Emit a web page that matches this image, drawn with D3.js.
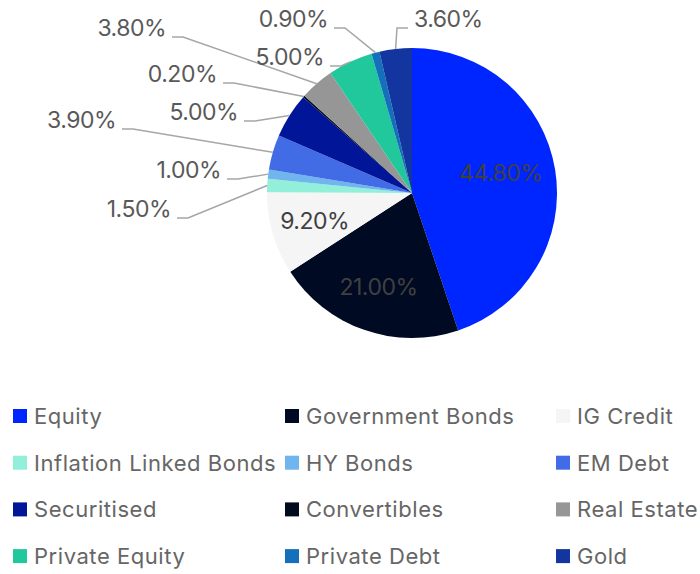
<!DOCTYPE html>
<html>
<head>
<meta charset="utf-8">
<script src="https://cdn.jsdelivr.net/npm/d3@7"></script>
<style>
  html, body { margin: 0; padding: 0; background: #ffffff; }
  svg { display: block; font-family: Inter, "Open Sans", sans-serif; }
</style>
</head>
<body>
<svg id="chart" width="700" height="574"></svg>
<script>
// Portfolio allocation by asset class (percent)
const categories = [
  "Equity", "Government Bonds", "IG Credit", "Inflation Linked Bonds",
  "HY Bonds", "EM Debt", "Securitised", "Convertibles",
  "Real Estate", "Private Equity", "Private Debt", "Gold"
];
const values = [44.8, 21.0, 9.2, 1.5, 1.0, 3.9, 5.0, 0.2, 3.8, 5.0, 0.9, 3.6];
const colors = [
  "#0026ff", "#000a22", "#f5f5f5", "#92efd9",
  "#70b5ee", "#416ce6", "#001598", "#020b1e",
  "#969696", "#21c89c", "#1470ba", "#12359f"
];

// Placement of each value label: inside slices use a radius fraction,
// outside labels sit at an anchor point with a leader line back to the slice.
const labelLayout = [
  { inside: 0.62, dy: -6 },
  { inside: 0.7, dy: -2 },
  { inside: 0.7, dy: 0 },
  { x: 171, y: 217, side: "L" },
  { x: 221, y: 178, side: "L" },
  { x: 116, y: 128, side: "L" },
  { x: 238, y: 120, side: "L" },
  { x: 217, y: 82,  side: "L" },
  { x: 166, y: 36,  side: "L" },
  { x: 324, y: 65,  side: "L" },
  { x: 328, y: 27,  side: "L" },
  { x: 414, y: 27,  side: "R" }
];

const data = categories.map((c, i) => ({ name: c, value: values[i], color: colors[i], layout: labelLayout[i] }));

const svg = d3.select("#chart");
const cx = 412, cy = 193, radius = 145;

const pie = d3.pie().sort(null).value(d => d.value).startAngle(0).endAngle(2 * Math.PI);
const arcs = pie(data);
const arc = d3.arc().innerRadius(0).outerRadius(radius);

const g = svg.append("g").attr("transform", `translate(${cx},${cy})`);

g.selectAll("path.slice")
  .data(arcs)
  .join("path")
  .attr("class", "slice")
  .attr("d", arc)
  .attr("fill", d => d.data.color);

const fmt = v => v.toFixed(2) + "%";
const labelColor = "#595959";

// Inside labels
arcs.filter(d => d.data.layout.inside).forEach(d => {
  const r = radius * d.data.layout.inside;
  const c = d3.arc().innerRadius(r).outerRadius(r).centroid(d);
  g.append("text")
    .attr("x", c[0]).attr("y", c[1] + d.data.layout.dy)
    .attr("text-anchor", "middle")
    .attr("dominant-baseline", "central")
    .attr("font-size", 23)
    .attr("fill", "#404040")
    .attr("letter-spacing", "-0.5")
    .text(fmt(d.data.value));
});

// Outside labels with leader lines
const outer = svg.append("g");
arcs.filter(d => !d.data.layout.inside).forEach(d => {
  const L = d.data.layout;
  const edge = d3.arc().innerRadius(radius).outerRadius(radius).centroid(d);
  const px = cx + edge[0], py = cy + edge[1];
  const ly = L.y + 1;
  let x1, x2;
  if (L.side === "L") { x1 = L.x + 6; x2 = L.x + 17; }
  else { x1 = L.x - 6; x2 = L.x - 17; }
  outer.append("polyline")
    .attr("points", [[x1, ly], [x2, ly], [px, py]].map(p => p.join(",")).join(" "))
    .attr("fill", "none")
    .attr("stroke", "#a6a6a6")
    .attr("stroke-width", 1.5);
  outer.append("text")
    .attr("x", L.x).attr("y", L.y)
    .attr("text-anchor", L.side === "L" ? "end" : "start")
    .attr("font-size", 23)
    .attr("fill", labelColor)
    .attr("letter-spacing", "-0.5")
    .text(fmt(d.data.value));
});

// Legend: three columns, four rows
const legendCols = [13, 285, 556];
const legendRow0 = 416, legendRowStep = 46.7, sw = 14;
const legend = svg.append("g");
data.forEach((d, i) => {
  const col = i % 3, row = Math.floor(i / 3);
  const x = legendCols[col], y = legendRow0 + row * legendRowStep;
  legend.append("rect")
    .attr("x", x).attr("y", y - sw / 2)
    .attr("width", sw).attr("height", sw)
    .attr("fill", d.color);
  legend.append("text")
    .attr("x", x + 21).attr("y", y)
    .attr("dominant-baseline", "central")
    .attr("font-size", 22)
    .attr("letter-spacing", "0.55")
    .attr("fill", "#666666")
    .text(d.name);
});
</script>
</body>
</html>
